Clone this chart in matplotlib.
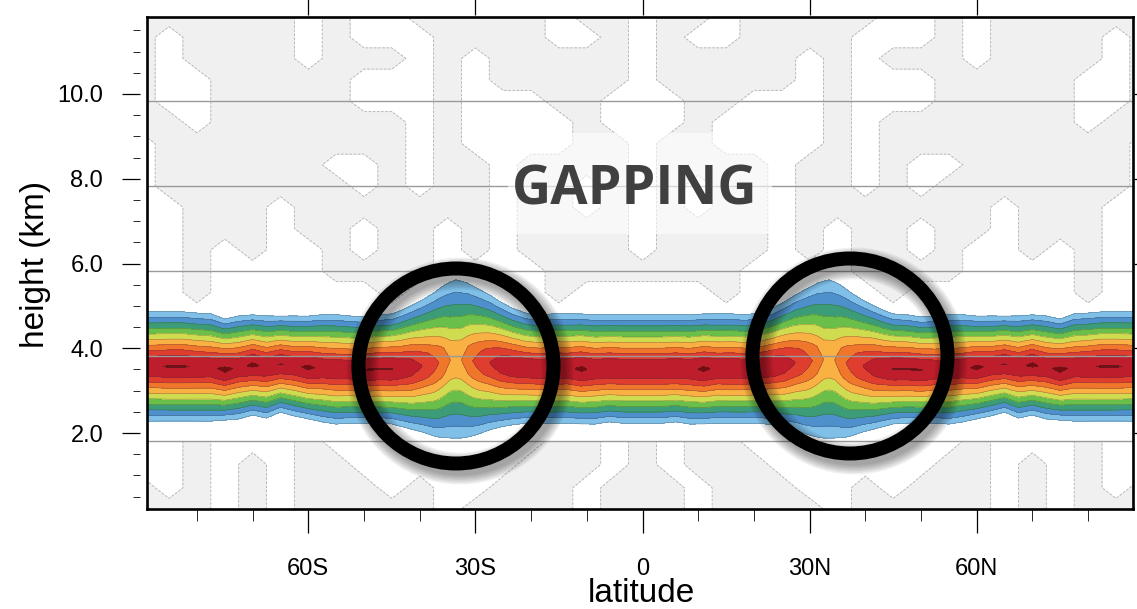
import numpy as np
import matplotlib
matplotlib.use("Agg")
import matplotlib.pyplot as plt
from matplotlib.patches import Circle, Rectangle

plt.rcParams['font.family'] = ['Liberation Sans', 'DejaVu Sans']

# ---- coloured band: outer edges (km), peak value per latitude node ----
band_lat = [-90, -87.5, -85, -82.5, -80, -77.5, -75, -72.5, -70, -67.5, -65, -62.5, -60, -57.5, -55,
            -52.5, -50, -47.5, -45, -43.5, -41.5, -39.5, -37.5, -36.5, -35.5, -34.5, -33.5, -32.5,
            -31.5, -30.5, -29.5, -27.5, -25.5, -23.5, -21, -18.5, -16, -13.5, -11, -8.5, -6, -3.5, -1,
            1, 3.5, 6, 8.5, 11, 13.5, 16, 18.5, 21, 23.5, 25.5, 27.5, 29.5, 30.5, 31.5, 32.5, 33.5,
            34.5, 35.5, 36.5, 37.5, 39.5, 41.5, 43.5, 45, 47.5, 50, 52.5, 55, 57.5, 60, 62.5, 65,
            67.5, 70, 72.5, 75, 77.5, 80, 82.5, 85, 87.5, 90]
band_top = [5.04, 5.04, 5.04, 5.04, 5.01, 4.99, 4.87, 4.94, 4.97, 4.94, 4.94, 4.94, 4.94, 4.97, 4.97,
            4.94, 4.92, 4.97, 4.99, 5.06, 5.18, 5.32, 5.48, 5.58, 5.67, 5.74, 5.79, 5.76,
            5.72, 5.65, 5.58, 5.44, 5.27, 5.13, 5.01, 4.97, 4.99, 4.99, 4.99, 4.97, 4.97, 4.97, 4.97,
            4.97, 4.97, 4.97, 4.97, 4.99, 4.99, 4.99, 4.97, 5.01, 5.13, 5.27, 5.44, 5.58, 5.65, 5.72, 5.76, 5.79,
            5.74, 5.67, 5.58, 5.48, 5.32, 5.18, 5.06, 4.99, 4.97, 4.92, 4.94, 4.97, 4.97, 4.94, 4.94, 4.94,
            4.94, 4.97, 4.94, 4.87, 4.99, 5.01, 5.04, 5.04, 5.04, 5.04]
band_bot = [2.47, 2.47, 2.47, 2.47, 2.47, 2.47, 2.49, 2.52, 2.61, 2.54, 2.68, 2.59, 2.52, 2.45, 2.40,
            2.42, 2.42, 2.42, 2.40, 2.35, 2.28, 2.21, 2.12, 2.09, 2.08, 2.07, 2.07, 2.07,
            2.09, 2.12, 2.16, 2.26, 2.33, 2.38, 2.42, 2.42, 2.42, 2.42, 2.40, 2.40, 2.45, 2.42, 2.42,
            2.42, 2.42, 2.45, 2.40, 2.40, 2.42, 2.42, 2.42, 2.42, 2.38, 2.33, 2.26, 2.16, 2.12, 2.09, 2.07, 2.07,
            2.07, 2.08, 2.09, 2.12, 2.21, 2.28, 2.35, 2.40, 2.42, 2.42, 2.42, 2.40, 2.45, 2.52, 2.59, 2.68,
            2.54, 2.61, 2.52, 2.49, 2.47, 2.47, 2.47, 2.47, 2.47, 2.47]
band_peak = [9.8, 9.9, 10.08, 10.08, 9.9, 9.8, 10.25, 9.8, 10.2, 9.8, 10.05, 9.85, 10.2, 9.8, 9.8,
             9.8, 10.06, 10.06, 10.06, 9.8, 9.6, 9.0, 8.4, 8.0, 7.5, 7.0, 6.9, 7.0,
             7.5, 8.0, 8.4, 9.0, 9.6, 9.8, 9.8, 9.8, 9.9, 9.8, 10.2, 9.8, 9.9, 9.8, 9.8,
             9.8, 9.8, 9.9, 9.8, 10.2, 9.8, 9.9, 9.8, 9.8, 9.8, 9.6, 9.0, 8.4, 8.0, 7.5, 7.0, 6.9,
             7.0, 7.5, 8.0, 8.4, 9.0, 9.6, 9.8, 10.06, 10.06, 10.06, 9.8, 9.8, 9.8, 10.2, 9.85, 10.05,
             9.8, 10.2, 9.8, 10.25, 9.8, 9.9, 10.08, 10.08, 9.9, 9.8]

# vertical profile of the band (distance from centre in km -> value)
prof_dh = [0, 0.235, 0.37, 0.505, 0.64, 0.775, 0.91, 1.045, 1.18, 1.315, 1.6]
prof_val = [9.8, 9, 8, 7, 6, 5, 4, 3, 2, 1, 0]

band_levels = [1, 2, 3, 4, 5, 6, 7, 8, 9, 10, 100]
band_colors = ['#80bfe8', '#4e90cc', '#3c9c78', '#6abe4a', '#d0dc50',
               '#f8b142', '#f0762b', '#df3e2e', '#be1d2b', '#7a0a10']

# ---- faint grey background field ('#' = grey) ----
upper_h = [12.0, 11.5, 11.0, 10.5, 10.0, 9.5, 9.0, 8.5, 8.0, 7.5, 7.0, 6.5, 6.0, 5.5, 5.0]
upper_rows = [
    "######.#..#####.##.##.#####..#.######",
    "#.####.#...####..#.#..####...#.####.#",
    "#.####.###.#.#####.#####.#.###.####.#",
    "#..#####...#.#####.#####.#...#####..#",
    "#..#####...#...##...##...#...#####..#",
    "##.#######.#....#...#....#.#######.##",
    ".#########.#....##.##....#.#########.",
    ".######..#.##.####.####.##.#..######.",
    ".#######.#.##.##.#.#.##.##.#.#######.",
    "..###.#######.##.#.#.##.#######.###..",
    "..###.##.##.#.####.####.#.##.##.###..",
    "..#.#..#.##.#.####.####.#.##.#..#.#..",
    "..#....####....#######....####....#..",
    "..#......#.....#.....#.....#......#..",
    ".....................................",
]
lower_h = [2.0, 1.45, 0.9, 0.4]
lower_rows = [
    "..#...#........##.#.##........#...#..",
    "..#.#.##......###.#.###......##.#.#..",
    "#.#.#.###.#..###.###.###..#.###.#.#.#",
    "###.#.#####.####.###.####.#####.#.###",
]
mask_lat = np.arange(-90, 91, 5)

x_major = [-60, -30, 0, 30, 60]
x_labels = ['60S', '30S', '0', '30N', '60N']
x_minor = [-80, -70, -50, -40, -20, -10, 10, 20, 40, 50, 70, 80]
y_major = [2, 4, 6, 8, 10]
y_minor = np.arange(0.5, 11.6, 0.5)

W, H = 1137, 609
fig = plt.figure(figsize=(W / 100, H / 100), dpi=100)


def px_rect(l, t, r, b):
    return [l / W, 1 - b / H, (r - l) / W, (b - t) / H]


def lat_of(px):
    return (px - 642.5) / 5.57


# data panel
ax = fig.add_axes(px_rect(147, 17, 1133, 509))
ax.set_xlim(lat_of(147), lat_of(1133))
ax.set_ylim(10 - (509 - 101) / 42.5, 10 - (17 - 101) / 42.5)

up = np.array([[c == '#' for c in r] for r in upper_rows], float)[::-1]
lo = np.array([[c == '#' for c in r] for r in lower_rows], float)[::-1]
for hh, mm in [(upper_h[::-1], up), (lower_h[::-1], lo)]:
    ax.contourf(mask_lat, hh, mm, levels=[0.5, 1.5], colors=['#f0f0f0'], zorder=0.5)
    ax.contour(mask_lat, hh, mm, levels=[0.5], colors='#b0b0b0', linewidths=0.6,
               linestyles=[(0, (3, 2))], zorder=0.6)

lat_g = np.linspace(-90, 90, 721)
h_g = np.linspace(0.3, 12.1, 500)
peak = np.interp(lat_g, band_lat, band_peak)
top = np.interp(lat_g, band_lat, band_top)
bot = np.interp(lat_g, band_lat, band_bot)
centre = (top + bot) / 2
edge = np.interp(9.8 / peak, prof_val[::-1], prof_dh[::-1])
width = (top - bot) / 2 / edge
dist = np.abs(h_g[:, None] - centre[None, :]) / width[None, :]
field = peak[None, :] / 9.8 * np.interp(dist, prof_dh, prof_val)

ax.contourf(lat_g, h_g, field, levels=band_levels, colors=band_colors, zorder=1)
ax.contour(lat_g, h_g, field, levels=band_levels[:-1], colors='#3a3a3a',
           linewidths=0.35, alpha=0.55, zorder=1.1)

ax.set_xticks([])
ax.set_yticks(y_major)
ax.tick_params(length=0, labelleft=False)
ax.grid(axis='y', color='#9a9a9a', linewidth=1.0)
for s in ax.spines.values():
    s.set_linewidth(1.9)
    s.set_color('black')

# tick frame (slightly offset from the data panel)
tx = fig.add_axes(px_rect(140, 15, 1134, 509))
tx.patch.set_visible(False)
for s in tx.spines.values():
    s.set_visible(False)
tx.set_xlim(lat_of(140), lat_of(1134))
tx.set_ylim(2 - (509 - 433) / 42.375, 10 + (94 - 15) / 42.375)
tx.set_xticks(x_major)
tx.set_xticklabels(x_labels)
tx.set_xticks(x_minor, minor=True)
tx.set_yticks(y_major)
tx.set_yticklabels(['%.1f' % v for v in y_major])
tx.set_yticks([v for v in y_minor if v not in y_major], minor=True)
tx.tick_params(direction='out', top=True, right=True, width=0.9, labelsize=17, colors='black')
tx.tick_params(axis='x', which='major', length=17, pad=18)
tx.tick_params(axis='x', which='minor', length=8.5)
tx.tick_params(axis='y', which='major', length=13, pad=13.5)
tx.tick_params(axis='y', which='minor', length=5)

fig.text(36 / W, 1 - 264 / H, 'height (km)', rotation=90, ha='center', va='center', fontsize=24)
fig.text(641 / W, 1 - 602 / H, 'latitude', ha='center', va='baseline', fontsize=24)

# annotation box and text
fig.add_artist(Rectangle((508, H - 234), 264, 101, transform=None, facecolor='white',
                         edgecolor='none', alpha=0.6, zorder=5))
fig.text(635 / W, 1 - 205 / H, 'GAPPING', ha='center', va='baseline', fontsize=39,
         fontweight='bold', family=['Open Sans', 'DejaVu Sans'], color='#404040', zorder=6)

# circles with soft shadow
for cx, cy in [(456, 366), (850, 356)]:
    for k in range(7):
        fig.add_artist(Circle((cx + 4, H - cy - 5), 97.5, transform=None, fill=False,
                              edgecolor='black', linewidth=(14 + 3 * k) * 0.72,
                              alpha=0.06, zorder=7))
    fig.add_artist(Circle((cx, H - cy), 97.5, transform=None, fill=False,
                          edgecolor='black', linewidth=14 * 0.72, zorder=8))

fig.savefig('out.png', dpi=100)
